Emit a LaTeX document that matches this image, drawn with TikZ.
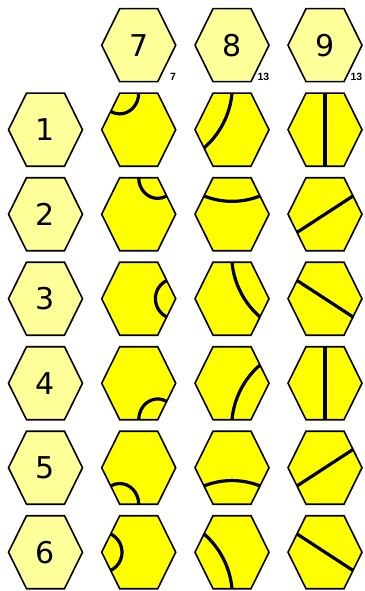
\documentclass[tikz,border=0pt]{standalone}
\usepackage{fontspec}
\usepackage{tikz}
\newfontfamily\digitfont{DejaVu Sans}
\newfontfamily\countfont{Liberation Sans}
\definecolor{palehex}{RGB}{255,255,153}
\definecolor{tilehex}{RGB}{255,255,0}
\tikzset{
    hexagon/.style={insert path={++(-37,0) -- ++(18,36.5) -- ++(38,0) -- ++(18,-36.5) -- ++(-18,-36.5) -- ++(-38,0) -- cycle}},
    labelhex/.style={draw=black, line width=1.6pt, fill=palehex},
    tilehexcell/.style={draw=black, line width=1.6pt, fill=tilehex},
    track/.style={draw=black, line width=3.2pt},
    midcurve/.style={looseness=0.88},
    bignum/.style={font=\digitfont\fontsize{30}{30}\selectfont, inner sep=0pt},
    countnum/.style={font=\countfont\bfseries\fontsize{10.5}{10.5}\selectfont, inner sep=0pt, anchor=base east}
}

\begin{document}
\begin{tikzpicture}[x=1pt, y=1pt]
  \useasboundingbox (0,0) rectangle (364,-591);
  % centres
  \coordinate (h7) at (138.7,-45.2);
  \coordinate (h8) at (232.0,-45.2);
  \coordinate (h9) at (325.0,-45.2);
  \coordinate (h1) at (45.5,-129.7);
  \coordinate (h2) at (45.5,-214.2);
  \coordinate (h3) at (45.5,-298.7);
  \coordinate (h4) at (45.5,-383.2);
  \coordinate (h5) at (45.5,-467.7);
  \coordinate (h6) at (45.5,-552.2);
  \coordinate (t17) at (138.7,-129.7);
  \coordinate (t27) at (138.7,-214.2);
  \coordinate (t37) at (138.7,-298.7);
  \coordinate (t47) at (138.7,-383.2);
  \coordinate (t57) at (138.7,-467.7);
  \coordinate (t67) at (138.7,-552.2);
  \coordinate (t18) at (232.0,-129.7);
  \coordinate (t28) at (232.0,-214.2);
  \coordinate (t38) at (232.0,-298.7);
  \coordinate (t48) at (232.0,-383.2);
  \coordinate (t58) at (232.0,-467.7);
  \coordinate (t68) at (232.0,-552.2);
  \coordinate (t19) at (325.0,-129.7);
  \coordinate (t29) at (325.0,-214.2);
  \coordinate (t39) at (325.0,-298.7);
  \coordinate (t49) at (325.0,-383.2);
  \coordinate (t59) at (325.0,-467.7);
  \coordinate (t69) at (325.0,-552.2);

  % header and row labels
  \draw[labelhex] (h7) [hexagon];
  \draw[labelhex] (h8) [hexagon];
  \draw[labelhex] (h9) [hexagon];
  \draw[labelhex] (h1) [hexagon];
  \draw[labelhex] (h2) [hexagon];
  \draw[labelhex] (h3) [hexagon];
  \draw[labelhex] (h4) [hexagon];
  \draw[labelhex] (h5) [hexagon];
  \draw[labelhex] (h6) [hexagon];
  \node[bignum] (n7) at (h7) {7};
  \node[bignum] (n8) at (h8) {8};
  \node[bignum] (n9) at (h9) {9};
  \node[bignum] (n1) at (h1) {1};
  \node[bignum] (n2) at (h2) {2};
  \node[bignum] (n3) at (h3) {3};
  \node[bignum] (n4) at (h4) {4};
  \node[bignum] (n5) at (h5) {5};
  \node[bignum] (n6) at (h6) {6};
  \node[countnum] (c7) at (176.2,-80.8) {7};
  \node[countnum] (c8) at (269.5,-80.8) {13};
  \node[countnum] (c9) at (362.5,-80.8) {13};

  % tiles
  \draw[tilehexcell] (t17) [hexagon];
  \draw[tilehexcell] (t27) [hexagon];
  \draw[tilehexcell] (t37) [hexagon];
  \draw[tilehexcell] (t47) [hexagon];
  \draw[tilehexcell] (t57) [hexagon];
  \draw[tilehexcell] (t67) [hexagon];
  \draw[tilehexcell] (t18) [hexagon];
  \draw[tilehexcell] (t28) [hexagon];
  \draw[tilehexcell] (t38) [hexagon];
  \draw[tilehexcell] (t48) [hexagon];
  \draw[tilehexcell] (t58) [hexagon];
  \draw[tilehexcell] (t68) [hexagon];
  \draw[tilehexcell] (t19) [hexagon];
  \draw[tilehexcell] (t29) [hexagon];
  \draw[tilehexcell] (t39) [hexagon];
  \draw[tilehexcell] (t49) [hexagon];
  \draw[tilehexcell] (t59) [hexagon];
  \draw[tilehexcell] (t69) [hexagon];

  % short curves
  \draw[track, shift={(t17)}] (0,36.5) arc[start angle=0, end angle=-118.3, x radius=19, y radius=20.7];
  \draw[track, shift={(t27)}] (0,36.5) arc[start angle=180, end angle=298.3, x radius=19, y radius=20.7];
  \draw[track, shift={(t37)}] (28,18.25) arc[start angle=116.3, end angle=243.7, radius=20.35];
  \draw[track, shift={(t47)}] (28,-18.25) arc[start angle=61.7, end angle=180, x radius=19, y radius=20.7];
  \draw[track, shift={(t57)}] (0,-36.5) arc[start angle=0, end angle=118.3, x radius=19, y radius=20.7];
  \draw[track, shift={(t67)}] (-28,-18.25) arc[start angle=-63.7, end angle=63.7, radius=20.35];
  % medium curves
  \draw[track, midcurve, shift={(t18)}] (0,36.5) to[bend left=22] (-28,-18.25);
  \draw[track, midcurve, shift={(t28)}] (-28,18.25) to[bend right=22] (28,18.25);
  \draw[track, midcurve, shift={(t38)}] (0,36.5) to[bend right=22] (28,-18.25);
  \draw[track, midcurve, shift={(t48)}] (28,18.25) to[bend right=22] (0,-36.5);
  \draw[track, midcurve, shift={(t58)}] (-28,-18.25) to[bend left=22] (28,-18.25);
  \draw[track, midcurve, shift={(t68)}] (-28,18.25) to[bend left=22] (0,-36.5);
  % straight
  \draw[track, shift={(t19)}] (0,36.5) -- (0,-36.5);
  \draw[track, shift={(t29)}] (-28,-18.25) -- (28,18.25);
  \draw[track, shift={(t39)}] (-28,18.25) -- (28,-18.25);
  \draw[track, shift={(t49)}] (0,36.5) -- (0,-36.5);
  \draw[track, shift={(t59)}] (-28,-18.25) -- (28,18.25);
  \draw[track, shift={(t69)}] (-28,18.25) -- (28,-18.25);
\end{tikzpicture}
\end{document}
